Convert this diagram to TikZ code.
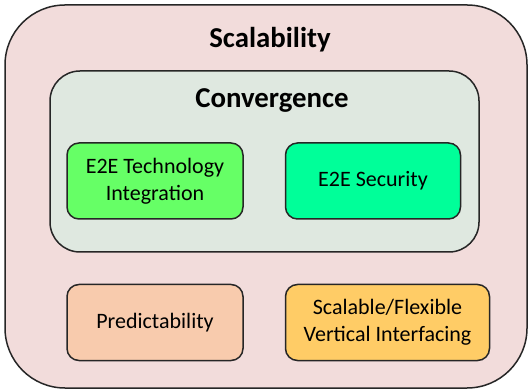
\documentclass[tikz,border=0pt]{standalone}
\usepackage{fontspec}
\setmainfont{Carlito}
\usepackage{tikz}
\usepackage{xcolor}
\usetikzlibrary{positioning}
\definecolor{outerpink}{HTML}{F2DCDB}
\definecolor{convgray}{HTML}{DFE8E0}
\definecolor{techgreen}{HTML}{66FF66}
\definecolor{secgreen}{HTML}{00FF99}
\definecolor{predpeach}{HTML}{F8CBAD}
\definecolor{vertorange}{HTML}{FFCC66}
\tikzset{
edge/.style={line width=0.75pt},
frame/.style 2 args={
	draw=black!85, edge, fill=#1,
	rounded corners=#2, inner sep=0pt
},
box/.style={
	frame={#1}{6pt}, minimum height=38pt, align=center,
	font=\fontsize{11}{13.4}\selectfont
},
title/.style={font=\bfseries\fontsize{14.4}{17}\selectfont, inner sep=0pt},
}

\begin{document}
\begin{tikzpicture}
	\useasboundingbox (0,0) rectangle (264pt,195pt);
	\node[frame={outerpink}{30pt}, minimum width=261pt, minimum height=191.5pt] (scal) at (133pt,96.75pt) {};
	\node[title] (scaltitle) at (135pt,175pt) {Scalability};
	
	\node[frame={convgray}{15pt}, minimum width=214.5pt, minimum height=90.5pt] (conv) at (132.25pt,114.25pt) {};
	\node[title] (convtitle) at (136pt,144.5pt) {Convergence};
	
	%
	\node[box=techgreen, minimum width=88pt] (tech) at (77.5pt,104.5pt) {E2E Technology\\Integration};
	\node[box=secgreen, minimum width=87.5pt, right=20.5pt of tech] (sec) {E2E Security};
	
	%
	\node[box=predpeach, minimum width=88pt, below=32pt of tech] (pred) {Predictability};
	\node[box=vertorange, minimum width=102pt, below right=32pt and 0pt of sec.south west] (vert) {Scalable/Flexible\\Vertical Interfacing};
\end{tikzpicture}
\end{document}
